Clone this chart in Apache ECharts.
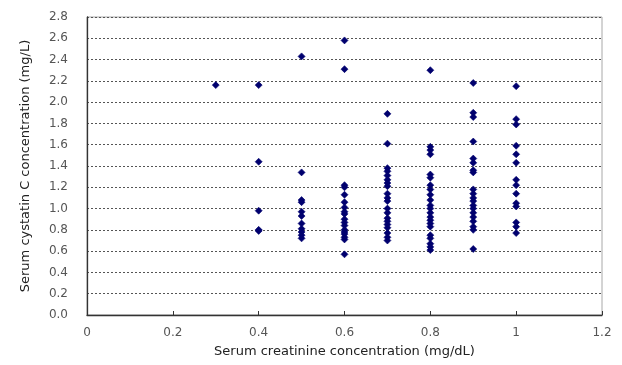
<!DOCTYPE html>
<html>
<head>
<meta charset="utf-8">
<script src="https://cdn.jsdelivr.net/npm/echarts@6/dist/echarts.min.js"></script>
<style>
  html, body { margin: 0; padding: 0; background: #fff; }
  #chart { width: 622px; height: 365px; }
</style>
</head>
<body>
<div id="chart"></div>
<script>
// Serum creatinine (mg/dL) columns and serum cystatin C (mg/L) values
const creat03 = [2.16];
const creat04 = [2.16, 1.44, 0.98, 0.80, 0.79];
const creat05 = [2.43, 1.34, 1.08, 1.06, 0.97, 0.93, 0.86, 0.81, 0.78, 0.75, 0.72];
const creat06 = [2.58, 2.31, 1.22, 1.20, 1.13, 1.06, 1.01, 0.97, 0.95, 0.90, 0.87, 0.84, 0.80, 0.78, 0.76, 0.73, 0.71, 0.57];
const creat07 = [1.89, 1.61, 1.38, 1.35, 1.31, 1.27, 1.24, 1.21, 1.14, 1.10, 1.07, 1.00, 0.96, 0.91, 0.88, 0.85, 0.82, 0.77, 0.73, 0.70];
const creat08 = [2.30, 1.58, 1.55, 1.51, 1.32, 1.29, 1.22, 1.18, 1.13, 1.08, 1.03, 1.00, 0.96, 0.92, 0.89, 0.86, 0.83, 0.75, 0.72, 0.67, 0.64, 0.61];
const creat09 = [2.18, 1.90, 1.86, 1.63, 1.47, 1.43, 1.36, 1.34, 1.18, 1.14, 1.10, 1.07, 1.03, 1.00, 0.96, 0.92, 0.88, 0.83, 0.80, 0.62];
const creat10 = [2.15, 1.84, 1.79, 1.59, 1.51, 1.43, 1.27, 1.22, 1.14, 1.05, 1.02, 0.87, 0.83, 0.77];

const creatinineLevels = [0.3, 0.4, 0.5, 0.6, 0.7, 0.8, 0.9, 1.0];
const cystatinColumns = [creat03, creat04, creat05, creat06, creat07, creat08, creat09, creat10];

const xTickLabels = ['0', '0.2', '0.4', '0.6', '0.8', '1', '1.2'];
const yTickLabels = ['0.0', '0.2', '0.4', '0.6', '0.8', '1.0', '1.2', '1.4', '1.6', '1.8', '2.0', '2.2', '2.4', '2.6', '2.8'];

const points = [];
creatinineLevels.forEach((x, i) => {
  cystatinColumns[i].forEach(y => points.push([x, y]));
});

const FONT = 'DejaVu Sans';
const chart = echarts.init(document.getElementById('chart'));
chart.setOption({
  backgroundColor: '#ffffff',
  animation: false,
  grid: {
    left: 87, right: 20, top: 17, bottom: 50,
    show: true, borderColor: '#a8a8a8', borderWidth: 1, backgroundColor: '#ffffff'
  },
  xAxis: {
    type: 'value', min: 0, max: 1.2, interval: 0.2,
    name: 'Serum creatinine concentration (mg/dL)',
    nameLocation: 'middle', nameGap: 30,
    nameTextStyle: { fontFamily: FONT, fontSize: 13, color: '#222' },
    axisLine: { show: true, lineStyle: { color: '#333', width: 1.3 } },
    axisTick: { show: true, inside: true, length: 4, lineStyle: { color: '#333' } },
    axisLabel: {
      fontFamily: FONT, fontSize: 12, color: '#555', margin: 12,
      formatter: (v) => xTickLabels[Math.round(v / 0.2)]
    },
    splitLine: { show: false }
  },
  yAxis: {
    type: 'value', min: 0, max: 2.8, interval: 0.2,
    name: 'Serum cystatin C concentration (mg/L)',
    nameLocation: 'middle', nameGap: 55,
    nameTextStyle: { fontFamily: FONT, fontSize: 13, color: '#222' },
    axisLine: { show: true, lineStyle: { color: '#333', width: 1.3 } },
    axisTick: { show: false },
    axisLabel: {
      fontFamily: FONT, fontSize: 12, color: '#555', margin: 19,
      formatter: (v) => yTickLabels[Math.round(v / 0.2)]
    },
    splitLine: { show: true, lineStyle: { color: '#555', type: [2, 2], width: 1 } }
  },
  series: [{
    type: 'scatter',
    data: points,
    symbol: 'diamond',
    symbolSize: 7,
    itemStyle: { color: '#00006e', borderColor: '#00006e', borderWidth: 0.6, opacity: 1 }
  }]
});
</script>
</body>
</html>
